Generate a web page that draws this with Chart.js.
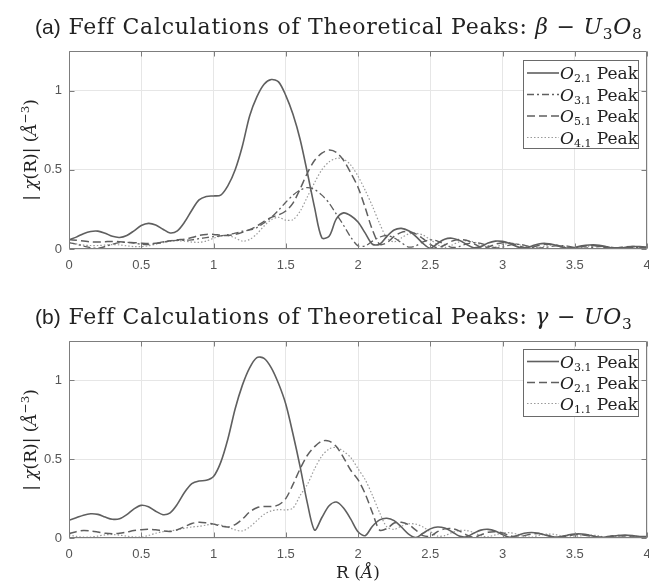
<!DOCTYPE html>
<html>
<head>
<meta charset="utf-8">
<script src="https://cdn.jsdelivr.net/npm/chart.js@4.4.1/dist/chart.umd.min.js"></script>
<style>
  html, body { margin: 0; padding: 0; background: #fff; }
  #wrap { position: relative; width: 649px; height: 588px; overflow: hidden; background: #fff; }
  canvas { position: absolute; left: 0; }
  .txt { position: absolute; white-space: nowrap; color: #222; font-family: "DejaVu Serif", serif; }
  .ttl { font-size: 22px; letter-spacing: 0.75px; }
  .sans { font-family: "Liberation Sans", Arial, sans-serif; letter-spacing: 0; font-size: 21px; }
  .it { font-style: italic; }
  sub { font-size: 70%; vertical-align: -0.3em; line-height: 0; }
  sup { font-size: 70%; vertical-align: 0.6em; line-height: 0; }
</style>
</head>
<body>
<div id="wrap">
  <canvas id="c1" width="649" height="294" style="top:0px"></canvas>
  <canvas id="c2" width="649" height="294" style="top:294px"></canvas>

  <div class="txt ttl" style="left:35px; top:14px;"><span class="sans">(a)</span> Feff Calculations of Theoretical Peaks: <span class="it">β</span> − <span class="it">U</span><sub>3</sub><span class="it">O</span><sub>8</sub></div>
  <div class="txt ttl" style="left:35px; top:304px;"><span class="sans">(b)</span> Feff Calculations of Theoretical Peaks: <span class="it">γ</span> − <span class="it">UO</span><sub>3</sub></div>

  <div class="txt" style="left:30px; top:150px; font-size:17px; transform: translate(-50%,-50%) rotate(-90deg);">| <span class="it">χ</span>(R)| (<span class="it">Å</span><sup>−3</sup>)</div>
  <div class="txt" style="left:30px; top:440px; font-size:17px; transform: translate(-50%,-50%) rotate(-90deg);">| <span class="it">χ</span>(R)| (<span class="it">Å</span><sup>−3</sup>)</div>
  <div class="txt" style="left:358px; top:572px; font-size:17px; transform: translate(-50%,-50%);">R (<span class="it">Å</span>)</div>
</div>

<script>
// ---------- DATA ----------
const R = [0,0.05,0.1,0.15,0.2,0.25,0.3,0.35,0.4,0.45,0.5,0.55,0.6,0.65,0.7,0.75,0.8,0.85,0.9,0.95,
  1,1.05,1.1,1.15,1.2,1.25,1.3,1.35,1.4,1.45,1.5,1.55,1.6,1.65,1.7,1.75,1.8,1.85,1.9,1.95,
  2,2.05,2.1,2.15,2.2,2.25,2.3,2.35,2.4,2.45,2.5,2.55,2.6,2.65,2.7,2.75,2.8,2.85,2.9,2.95,
  3,3.05,3.1,3.15,3.2,3.25,3.3,3.35,3.4,3.45,3.5,3.55,3.6,3.65,3.7,3.75,3.8,3.85,3.9,3.95,4];

const xTicks = [0,0.5,1,1.5,2,2.5,3,3.5,4];
const yTicks = [0,0.5,1];

// (a) beta-U3O8
const a_O21 = [0.057,0.075,0.097,0.111,0.113,0.100,0.080,0.073,0.085,0.115,0.148,0.162,0.152,0.125,0.101,0.115,0.170,0.245,0.310,0.332,
  0.335,0.340,0.400,0.500,0.650,0.840,0.960,1.040,1.070,1.055,0.970,0.850,0.690,0.480,0.260,0.070,0.080,0.190,0.228,0.210,
  0.170,0.100,0.030,0.030,0.080,0.120,0.130,0.115,0.080,0.035,0.005,0.035,0.062,0.068,0.055,0.030,0.008,0.015,0.038,0.050,
  0.048,0.035,0.015,0.005,0.018,0.032,0.035,0.028,0.015,0.005,0.010,0.020,0.025,0.025,0.018,0.008,0.005,0.010,0.015,0.015,0.012];
const a_O31 = [0.040,0.030,0.018,0.008,0.005,0.015,0.030,0.040,0.042,0.038,0.030,0.028,0.035,0.045,0.052,0.055,0.055,0.058,0.065,0.072,
  0.078,0.083,0.090,0.100,0.112,0.120,0.135,0.165,0.200,0.245,0.295,0.340,0.372,0.388,0.375,0.340,0.290,0.220,0.150,0.075,
  0.020,0.020,0.050,0.075,0.085,0.070,0.040,0.012,0.020,0.045,0.058,0.050,0.030,0.010,0.015,0.032,0.040,0.035,0.020,0.008,
  0.012,0.025,0.030,0.025,0.012,0.005,0.010,0.018,0.022,0.018,0.010,0.004,0.008,0.014,0.016,0.012,0.006,0.004,0.008,0.011,0.010];
const a_O51 = [0.060,0.055,0.050,0.045,0.044,0.046,0.048,0.046,0.042,0.040,0.037,0.035,0.036,0.042,0.052,0.058,0.062,0.072,0.085,0.092,
  0.092,0.087,0.085,0.092,0.105,0.122,0.145,0.175,0.200,0.215,0.240,0.290,0.380,0.480,0.560,0.605,0.625,0.610,0.560,0.480,
  0.390,0.260,0.120,0.030,0.040,0.080,0.105,0.110,0.095,0.065,0.030,0.008,0.025,0.050,0.060,0.055,0.035,0.012,0.012,0.030,
  0.040,0.038,0.025,0.010,0.010,0.022,0.030,0.028,0.018,0.006,0.008,0.016,0.022,0.020,0.012,0.005,0.008,0.014,0.016,0.012,0.008];
const a_O41 = [0.040,0.032,0.025,0.022,0.022,0.025,0.028,0.026,0.020,0.015,0.015,0.020,0.030,0.040,0.048,0.052,0.050,0.044,0.042,0.050,
  0.068,0.082,0.085,0.070,0.050,0.060,0.095,0.145,0.185,0.200,0.182,0.185,0.240,0.330,0.420,0.500,0.550,0.572,0.568,0.530,
  0.460,0.370,0.270,0.160,0.070,0.045,0.070,0.095,0.100,0.088,0.060,0.028,0.010,0.025,0.045,0.052,0.045,0.028,0.010,0.012,
  0.028,0.036,0.033,0.020,0.008,0.010,0.020,0.026,0.022,0.012,0.005,0.010,0.018,0.020,0.015,0.007,0.005,0.010,0.014,0.012,0.008];

// (b) gamma-UO3
const b_O31 = [0.112,0.128,0.145,0.154,0.150,0.133,0.119,0.122,0.148,0.185,0.207,0.198,0.170,0.148,0.160,0.215,0.290,0.345,0.362,0.366,
  0.390,0.480,0.630,0.820,0.970,1.080,1.145,1.140,1.080,0.980,0.850,0.660,0.450,0.220,0.050,0.130,0.205,0.228,0.190,0.120,
  0.040,0.015,0.075,0.115,0.125,0.110,0.070,0.025,0.003,0.030,0.058,0.070,0.063,0.040,0.012,0.008,0.030,0.050,0.055,0.045,
  0.022,0.005,0.015,0.030,0.035,0.030,0.018,0.006,0.008,0.018,0.025,0.025,0.018,0.008,0.004,0.010,0.016,0.018,0.015,0.010,0.008];
const b_O21 = [0.027,0.040,0.048,0.045,0.038,0.030,0.027,0.030,0.038,0.047,0.053,0.055,0.052,0.045,0.042,0.052,0.072,0.092,0.100,0.096,
  0.088,0.076,0.070,0.085,0.120,0.165,0.192,0.200,0.200,0.210,0.250,0.340,0.440,0.525,0.580,0.615,0.615,0.580,0.510,0.430,
  0.370,0.280,0.160,0.050,0.060,0.095,0.100,0.085,0.050,0.015,0.012,0.040,0.058,0.060,0.045,0.020,0.005,0.020,0.036,0.040,
  0.032,0.015,0.005,0.015,0.025,0.028,0.020,0.008,0.005,0.014,0.020,0.020,0.012,0.005,0.007,0.013,0.016,0.012,0.006,0.006,0.010];
const b_O11 = [0.020,0.010,0.005,0.006,0.012,0.020,0.022,0.018,0.012,0.006,0.006,0.016,0.030,0.040,0.045,0.052,0.062,0.070,0.074,0.082,
  0.088,0.082,0.068,0.052,0.045,0.070,0.110,0.150,0.172,0.180,0.178,0.190,0.270,0.340,0.440,0.520,0.565,0.575,0.550,0.510,
  0.440,0.370,0.270,0.160,0.070,0.055,0.075,0.090,0.088,0.070,0.040,0.012,0.015,0.035,0.048,0.048,0.035,0.015,0.008,0.020,
  0.032,0.034,0.025,0.010,0.006,0.016,0.024,0.024,0.015,0.006,0.008,0.015,0.019,0.016,0.008,0.004,0.010,0.014,0.013,0.008,0.006];

const legendA = [["2.1"],["3.1"],["5.1"],["4.1"]];
const legendB = [["3.1"],["2.1"],["1.1"]];

// ---------- STYLES ----------
const STY = {
  solid:   { color: '#5f5f5f', width: 1.6, dash: [] },
  dashdot: { color: '#5f5f5f', width: 1.3, dash: [7, 3, 2, 3] },
  dashed:  { color: '#5f5f5f', width: 1.5, dash: [8, 4] },
  dotted:  { color: '#9a9a9a', width: 1.2, dash: [1.5, 2] }
};

function ds(label, vals, sty) {
  return {
    label: label,
    data: R.map((x, i) => ({ x: x, y: vals[i] })),
    borderColor: sty.color, borderWidth: sty.width, borderDash: sty.dash,
    pointRadius: 0, tension: 0.3, fill: false
  };
}

const framePlugin = {
  id: 'frame',
  afterDraw(chart, args, opts) {
    const ctx = chart.ctx, a = chart.chartArea;
    const xs = chart.scales.x, ys = chart.scales.y;
    ctx.save();
    ctx.strokeStyle = '#7d7d7d';
    ctx.lineWidth = 1;
    ctx.setLineDash([]);
    ctx.beginPath();
    const L = Math.round(a.left) + 0.5, Rt = Math.round(a.right) - 0.5;
    const T = Math.round(a.top) + 0.5, B = Math.round(a.bottom) - 0.5;
    ctx.rect(L, T, Rt - L, B - T);
    const tl = 5;
    xTicks.forEach(v => {
      const p = Math.round(xs.getPixelForValue(v)) + 0.5;
      ctx.moveTo(p, B); ctx.lineTo(p, B - tl);
      ctx.moveTo(p, T); ctx.lineTo(p, T + tl);
    });
    yTicks.forEach(v => {
      const p = Math.round(ys.getPixelForValue(v)) + 0.5;
      ctx.moveTo(L, p); ctx.lineTo(L + tl, p);
      ctx.moveTo(Rt, p); ctx.lineTo(Rt - tl, p);
    });
    ctx.stroke();

    // legend
    const lg = opts.items;
    const box = opts.box;
    ctx.fillStyle = '#fff';
    ctx.fillRect(box.x, box.y, box.w, box.h);
    ctx.strokeStyle = '#6a6a6a';
    ctx.strokeRect(box.x + 0.5, box.y + 0.5, box.w, box.h);
    lg.forEach((it, i) => {
      const d = chart.data.datasets[i];
      const yy = box.y + opts.first + i * opts.step;
      ctx.beginPath();
      ctx.strokeStyle = d.borderColor;
      ctx.lineWidth = d.borderWidth;
      ctx.setLineDash(d.borderDash);
      ctx.moveTo(box.x + 4, yy); ctx.lineTo(box.x + 36, yy);
      ctx.stroke();
      ctx.setLineDash([]);
      ctx.fillStyle = '#222';
      ctx.textBaseline = 'alphabetic';
      let tx = box.x + 37;
      const by = yy + 6;
      ctx.font = 'italic 17px "DejaVu Serif"';
      ctx.fillText('O', tx, by); tx += ctx.measureText('O').width;
      ctx.font = '11px "DejaVu Serif"';
      ctx.fillText(it[0], tx, by + 3); tx += ctx.measureText(it[0]).width;
      ctx.font = '17px "DejaVu Serif"';
      ctx.fillText(' Peak', tx, by);
    });
    ctx.restore();
  }
};

function makeChart(id, datasets, top, bottom, legendItems, box, first, step) {
  const H = 294;
  return new Chart(document.getElementById(id), {
    type: 'line',
    data: { datasets: datasets },
    plugins: [framePlugin],
    options: {
      responsive: false, animation: false, devicePixelRatio: 1,
      layout: { padding: { left: 0, right: 2, top: top, bottom: 0 } },
      plugins: {
        legend: { display: false }, tooltip: { enabled: false }, title: { display: false },
        frame: { items: legendItems, box: box, first: first, step: step }
      },
      scales: {
        x: {
          type: 'linear', min: 0, max: 4,
          afterBuildTicks: s => { s.ticks = xTicks.map(v => ({ value: v })); },
          afterFit: s => { s.height = H - bottom; s.paddingLeft = 0; s.paddingRight = 0; },
          grid: { color: '#e6e6e6', drawTicks: false },
          border: { display: false },
          ticks: { padding: 9, color: '#555', font: { family: 'Liberation Sans', size: 13 }, maxRotation: 0,
                   callback: v => String(v) }
        },
        y: {
          type: 'linear', min: 0, max: 1.25,
          afterBuildTicks: s => { s.ticks = yTicks.map(v => ({ value: v })); },
          afterFit: s => { s.width = 69; s.paddingTop = 0; s.paddingBottom = 0; },
          grid: { color: '#e6e6e6', drawTicks: false },
          border: { display: false },
          ticks: { padding: 7, color: '#555', font: { family: 'Liberation Sans', size: 13 },
                   callback: v => String(v) }
        }
      }
    }
  });
}

makeChart('c1', [
  ds('O2.1 Peak', a_O21, STY.solid),
  ds('O3.1 Peak', a_O31, STY.dashdot),
  ds('O5.1 Peak', a_O51, STY.dashed),
  ds('O4.1 Peak', a_O41, STY.dotted)
], 51, 249, legendA, { x: 523, y: 60, w: 115, h: 88 }, 13, 21.5);

makeChart('c2', [
  ds('O3.1 Peak', b_O31, STY.solid),
  ds('O2.1 Peak', b_O21, STY.dashed),
  ds('O1.1 Peak', b_O11, STY.dotted)
], 47, 244, legendB, { x: 523, y: 55, w: 115, h: 67 }, 12.5, 21);
</script>
</body>
</html>
